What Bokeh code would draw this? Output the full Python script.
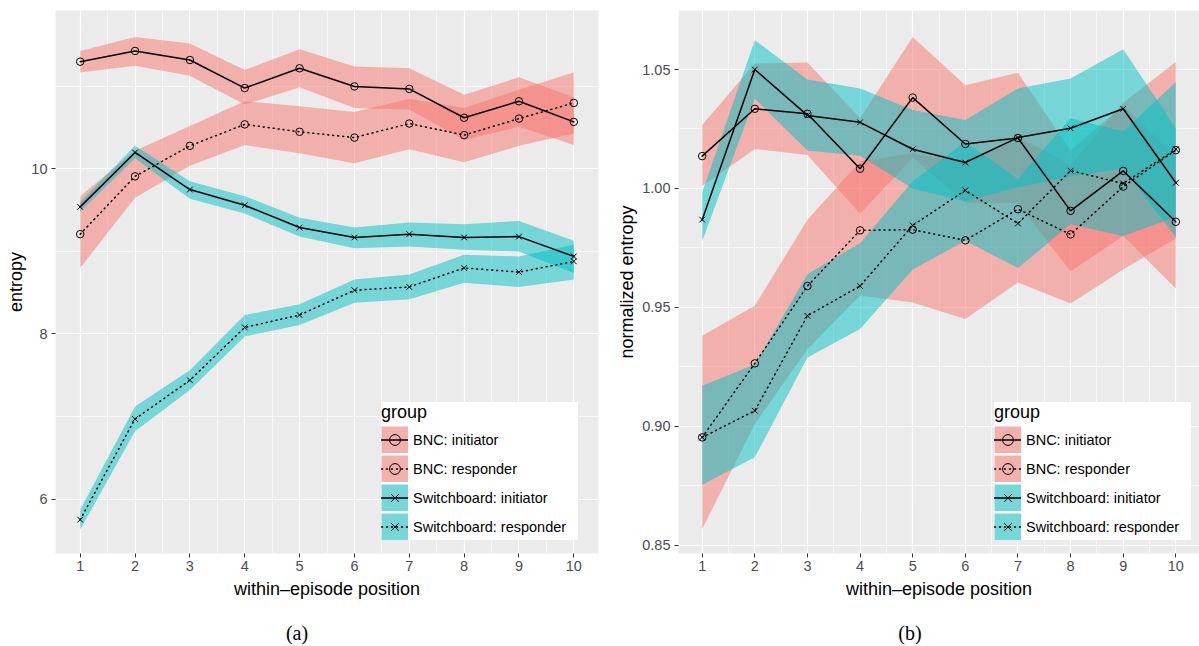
from bokeh.plotting import figure
from bokeh.models import (Range1d, FixedTicker, PrintfTickFormatter, Legend,
                          LegendItem, Div, Spacer)
from bokeh.layouts import row, column
from bokeh.embed import file_html
from bokeh.resources import INLINE

# ---------------- data ----------------
positions = [1, 2, 3, 4, 5, 6, 7, 8, 9, 10]
x_ticks = [1, 2, 3, 4, 5, 6, 7, 8, 9, 10]
x_minor = [1.5, 2.5, 3.5, 4.5, 5.5, 6.5, 7.5, 8.5, 9.5]
groups = ["BNC: initiator", "BNC: responder",
          "Switchboard: initiator", "Switchboard: responder"]
captions = ["(a)", "(b)"]

# panel (a): entropy
a_bnc_init    = [11.30, 11.43, 11.32, 10.98, 11.22, 11.00, 10.97, 10.62, 10.82, 10.57]
a_bnc_init_lo = [11.17, 11.25, 11.13, 10.78, 10.99, 10.74, 10.72, 10.35, 10.51, 10.29]
a_bnc_init_hi = [11.43, 11.60, 11.52, 11.20, 11.45, 11.24, 11.22, 10.90, 11.11, 10.87]
a_bnc_resp    = [9.21, 9.91, 10.28, 10.54, 10.45, 10.38, 10.55, 10.41, 10.61, 10.80]
a_bnc_resp_lo = [8.80, 9.65, 10.04, 10.29, 10.19, 10.07, 10.24, 10.08, 10.28, 10.43]
a_bnc_resp_hi = [9.67, 10.22, 10.52, 10.82, 10.76, 10.69, 10.85, 10.74, 10.96, 11.17]
a_sw_init     = [9.54, 10.20, 9.75, 9.56, 9.29, 9.17, 9.21, 9.17, 9.18, 8.94]
a_sw_init_lo  = [9.48, 10.13, 9.64, 9.46, 9.18, 9.04, 9.06, 9.02, 9.00, 8.74]
a_sw_init_hi  = [9.60, 10.28, 9.85, 9.67, 9.41, 9.29, 9.35, 9.33, 9.37, 9.13]
a_sw_resp     = [5.75, 6.97, 7.44, 8.08, 8.23, 8.53, 8.57, 8.80, 8.75, 8.88]
a_sw_resp_lo  = [5.63, 6.82, 7.32, 7.97, 8.11, 8.38, 8.42, 8.62, 8.57, 8.66]
a_sw_resp_hi  = [5.87, 7.12, 7.56, 8.23, 8.36, 8.66, 8.72, 8.96, 8.94, 9.08]
a_y_ticks = [6, 8, 10]
a_y_minor = [7, 9, 11]

# panel (b): normalized entropy
b_bnc_init    = [1.0136, 1.0335, 1.0314, 1.0083, 1.0382, 1.0187, 1.0212, 0.9906, 1.0074, 0.9860]
b_bnc_init_lo = [1.0010, 1.0166, 1.0141, 0.9894, 1.0130, 0.9940, 0.9938, 0.9652, 0.9800, 0.9580]
b_bnc_init_hi = [1.0267, 1.0525, 1.0529, 1.0295, 1.0637, 1.0434, 1.0486, 1.0160, 1.0350, 1.0130]
b_bnc_resp    = [0.8954, 0.9265, 0.9590, 0.9824, 0.9827, 0.9782, 0.9913, 0.9807, 1.0008, 1.0161]
b_bnc_resp_lo = [0.8569, 0.9010, 0.9325, 0.9550, 0.9521, 0.9451, 0.9605, 0.9517, 0.9660, 0.9790]
b_bnc_resp_hi = [0.9381, 0.9507, 0.9869, 1.0113, 1.0148, 1.0113, 1.0221, 1.0097, 1.0360, 1.0532]
b_sw_init     = [0.9869, 1.0500, 1.0307, 1.0278, 1.0165, 1.0109, 1.0214, 1.0253, 1.0335, 1.0024]
b_sw_init_lo  = [0.9778, 1.0378, 1.0160, 1.0138, 1.0000, 0.9945, 1.0005, 1.0050, 1.0085, 0.9795]
b_sw_init_hi  = [0.9983, 1.0623, 1.0458, 1.0420, 1.0330, 1.0288, 1.0420, 1.0462, 1.0585, 1.0253]
b_sw_resp     = [0.8954, 0.9066, 0.9465, 0.9590, 0.9845, 0.9992, 0.9853, 1.0075, 1.0021, 1.0165]
b_sw_resp_lo  = [0.8755, 0.8870, 0.9290, 0.9409, 0.9660, 0.9780, 0.9666, 0.9850, 0.9800, 0.9880]
b_sw_resp_hi  = [0.9171, 0.9260, 0.9640, 0.9770, 1.0030, 1.0195, 1.0040, 1.0295, 1.0240, 1.0448]
b_y_ticks = [0.85, 0.90, 0.95, 1.00, 1.05]
b_y_minor = [0.875, 0.925, 0.975, 1.025, 1.075]

# ---------------- style ----------------
BNC_COL = "#F8766D"
SW_COL = "#00BFC4"
BNC_KEY = "#F2B1AD"
SW_KEY = "#76D6D8"
FONT = "Liberation Sans"
styles = [
    dict(fill=BNC_COL, key=BNC_KEY, dash="solid", marker="circle", msize=7.5),
    dict(fill=BNC_COL, key=BNC_KEY, dash="1 4", marker="circle", msize=7.5),
    dict(fill=SW_COL, key=SW_KEY, dash="solid", marker="x", msize=8),
    dict(fill=SW_COL, key=SW_KEY, dash="1 4", marker="x", msize=8),
]

FIG_H = 612


def panel(series, y_range, y_ticks, y_minor, y_fmt, y_label, width,
          border_left, border_right, legend_x):
    p = figure(width=width, height=FIG_H, output_backend="svg",
               toolbar_location=None, x_range=Range1d(0.55, 10.45),
               y_range=Range1d(*y_range),
               min_border_left=border_left, min_border_right=border_right,
               min_border_top=10, min_border_bottom=FIG_H - 553)
    p.background_fill_color = "#EBEBEB"
    p.border_fill_color = "white"
    p.outline_line_color = None

    p.xaxis.ticker = FixedTicker(ticks=x_ticks, minor_ticks=x_minor)
    p.yaxis.ticker = FixedTicker(ticks=y_ticks, minor_ticks=y_minor)
    p.yaxis.formatter = PrintfTickFormatter(format=y_fmt)
    for g in (p.xgrid, p.ygrid):
        g.grid_line_color = "white"
        g.grid_line_width = 1.2
        g.minor_grid_line_color = "white"
        g.minor_grid_line_width = 0.6
    for ax in (p.xaxis, p.yaxis):
        ax.axis_line_color = None
        ax.major_tick_line_color = "#333333"
        ax.major_tick_line_width = 1
        ax.major_tick_out = 4
        ax.major_tick_in = 0
        ax.minor_tick_out = 0
        ax.minor_tick_in = 0
        ax.major_label_text_font = FONT
        ax.major_label_text_font_size = "14.5px"
        ax.major_label_text_color = "#4D4D4D"
        ax.axis_label_text_font = FONT
        ax.axis_label_text_font_size = "18px"
        ax.axis_label_text_font_style = "normal"
        ax.axis_label_text_color = "black"
    p.xaxis.major_label_standoff = 3
    p.xaxis.axis_label_standoff = 5
    p.yaxis.major_label_standoff = 4
    p.yaxis.axis_label_standoff = 2
    p.xaxis.axis_label = "within\u2013episode position"
    p.yaxis.axis_label = y_label

    # ribbons first
    for (val, lo, hi), st in zip(series, styles):
        p.varea(x=positions, y1=lo, y2=hi, fill_color=st["fill"], fill_alpha=0.5)

    items = []
    for (val, lo, hi), st, name in zip(series, styles, groups):
        # one-point line: invisible in the plot, draws the filled legend key
        key = p.line(x=positions[:1], y=val[:1], line_width=27,
                     line_color=st["key"], line_cap="butt")
        ln = p.line(x=positions, y=val, line_color="black", line_width=1.5,
                    line_dash=st["dash"], line_cap="round")
        mk = p.scatter(x=positions, y=val, marker=st["marker"], size=st["msize"],
                       line_color="black", line_width=1, fill_alpha=0)
        items.append(LegendItem(label=name, renderers=[key, ln, mk]))

    legend = Legend(items=items, location=(legend_x, 13), title="group",
                    title_text_font=FONT, title_text_font_size="18px",
                    title_text_font_style="normal", title_text_color="black",
                    title_standoff=3,
                    label_text_font=FONT, label_text_font_size="14.5px",
                    label_text_color="black", glyph_width=27, glyph_height=27,
                    label_height=27, label_width=165, label_standoff=5,
                    spacing=2, padding=8, margin=0,
                    background_fill_color="white", background_fill_alpha=1,
                    border_line_color=None)
    p.add_layout(legend)
    return p


pa = panel([(a_bnc_init, a_bnc_init_lo, a_bnc_init_hi),
            (a_bnc_resp, a_bnc_resp_lo, a_bnc_resp_hi),
            (a_sw_init, a_sw_init_lo, a_sw_init_hi),
            (a_sw_resp, a_sw_resp_lo, a_sw_resp_hi)],
           (5.34, 11.92), a_y_ticks, a_y_minor, "%d", "entropy",
           600, 55, 2, 326)

pb = panel([(b_bnc_init, b_bnc_init_lo, b_bnc_init_hi),
            (b_bnc_resp, b_bnc_resp_lo, b_bnc_resp_hi),
            (b_sw_init, b_sw_init_lo, b_sw_init_hi),
            (b_sw_resp, b_sw_resp_lo, b_sw_resp_hi)],
           (0.8466, 1.0748), b_y_ticks, b_y_minor, "%.2f", "normalized entropy",
           599, 78, 0, 316)


def caption_div(text, width):
    html = ('<div style="display:block; width:%dpx; text-align:center; '
            'font-family:\'Liberation Serif\', serif; font-size:20px; '
            'line-height:22px; padding-top:10px; color:black; margin:0">%s</div>'
            % (width, text))
    return Div(text=html, width=width, height=34, margin=0)


caps = row(caption_div(captions[0], 594), Spacer(width=27, height=34, margin=0),
           caption_div(captions[1], 578))

layout = column(row(pa, pb), caps)
open("out.html", "w").write(file_html(layout, INLINE))
